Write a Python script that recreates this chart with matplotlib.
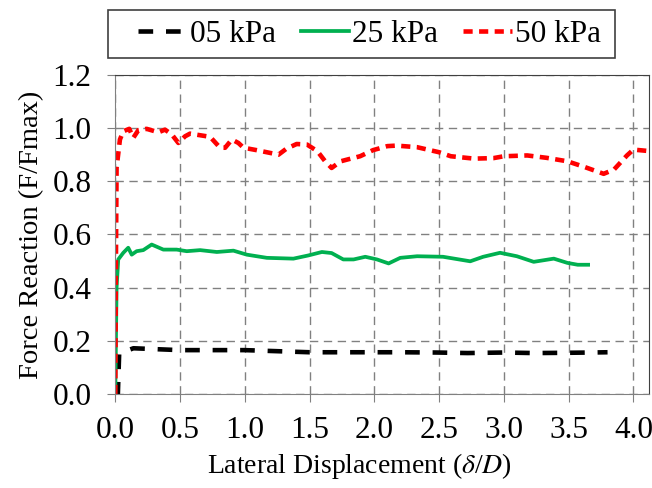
import numpy as np
import matplotlib
matplotlib.use("Agg")
import matplotlib.pyplot as plt
from matplotlib.patches import Rectangle

plt.rcParams['font.family'] = ['Liberation Serif', 'DejaVu Serif']
plt.rcParams['mathtext.fontset'] = 'stix'

# lateral displacement (delta/D) and normalised force F/Fmax for each surcharge
x_05 = [0.0, 0.02, 0.03, 0.14, 0.5, 1.0, 1.5, 1.92, 2.2, 2.48, 2.72, 3.0, 3.23, 3.49, 3.67, 3.80]
y_05 = [0.0, 0.0, 0.152, 0.172, 0.165, 0.165, 0.157, 0.157, 0.157, 0.156, 0.154, 0.156, 0.154, 0.155, 0.156, 0.157]

x_25 = [0.0, 0.01, 0.023, 0.062, 0.10, 0.127, 0.165, 0.216, 0.281, 0.371, 0.474, 0.552, 0.655,
        0.784, 0.912, 1.015, 1.17, 1.375, 1.49, 1.595, 1.67, 1.76, 1.84, 1.93, 2.02, 2.11, 2.2,
        2.33, 2.53, 2.74, 2.84, 2.97, 3.10, 3.23, 3.385, 3.49, 3.57, 3.65]
y_25 = [0.0, 0.40, 0.506, 0.531, 0.55, 0.524, 0.537, 0.541, 0.562, 0.543, 0.543, 0.537, 0.541,
        0.534, 0.539, 0.524, 0.512, 0.509, 0.521, 0.534, 0.530, 0.506, 0.506, 0.516, 0.506, 0.491, 0.512,
        0.518, 0.516, 0.499, 0.516, 0.531, 0.518, 0.497, 0.509, 0.493, 0.486, 0.486]

x_50 = [0.0, 0.005, 0.01, 0.036, 0.062, 0.108, 0.139, 0.178, 0.242, 0.333, 0.384, 0.436, 0.487,
        0.539, 0.577, 0.732, 0.809, 0.848, 0.90, 0.95, 0.99, 1.09, 1.17, 1.26, 1.32, 1.40, 1.48,
        1.56, 1.62, 1.67, 1.74, 1.81, 1.89, 1.99, 2.10, 2.17, 2.33, 2.50, 2.59, 2.77, 2.92, 3.0,
        3.18, 3.33, 3.49, 3.62, 3.77, 3.85, 3.95, 4.0, 4.13]
y_50 = [0.0, 0.5, 0.85, 0.957, 0.988, 0.997, 0.963, 0.992, 0.997, 0.984, 0.994, 0.976, 0.944,
        0.969, 0.979, 0.967, 0.926, 0.926, 0.957, 0.944, 0.926, 0.917, 0.909, 0.90, 0.922, 0.940, 0.938,
        0.913, 0.875, 0.85, 0.875, 0.884, 0.894, 0.917, 0.932, 0.934, 0.928, 0.909, 0.894, 0.885, 0.887, 0.894,
        0.897, 0.888, 0.875, 0.854, 0.828, 0.844, 0.897, 0.919, 0.913]

labels = ["05 kPa", "25 kPa", "50 kPa"]
xticks = [0.0, 0.5, 1.0, 1.5, 2.0, 2.5, 3.0, 3.5, 4.0]
yticks = [0.0, 0.2, 0.4, 0.6, 0.8, 1.0, 1.2]

fig = plt.figure(figsize=(6.52, 4.88), dpi=100)
ax = fig.add_axes([0.1768, 0.1926, 0.8186, 0.654])

l1, = ax.plot(x_05, y_05, color="black", lw=3.3, dashes=(3.2, 2.8), solid_capstyle="round")
l2, = ax.plot(x_25, y_25, color="#00B050", lw=2.7, solid_joinstyle="round")
l3, = ax.plot(x_50, y_50, color="#FF0000", lw=3.3, dashes=(2.0, 1.4))

ax.set_xlim(0, 4.12)
ax.set_ylim(0, 1.2)
ax.set_xticks(xticks)
ax.set_yticks(yticks)
ax.set_xticklabels([f"{v:.1f}" for v in xticks])
ax.set_yticklabels([f"{v:.1f}" for v in yticks])
ax.tick_params(labelsize=22.5, length=6, color="#808080", direction="out")
ax.tick_params(axis="y", pad=11)
ax.tick_params(axis="x", pad=10)
ax.grid(True, color="#808080", linestyle=(0, (6, 4)), lw=1.0)

for s in ["left", "bottom"]:
    ax.spines[s].set_color("#808080")
for s in ["top", "right"]:
    ax.spines[s].set_color("#404040")

ax.set_xlabel(r"Lateral Displacement ($\delta$/$D$)", fontsize=20)
ax.xaxis.set_label_coords(0.457, -0.178)
ax.set_ylabel("Force Reaction (F/Fmax)", fontsize=20.5, labelpad=6)

# legend box drawn separately so the padding inside can be uneven
fig.patches.append(Rectangle((0.1656, 0.881), 0.777, 0.0984, transform=fig.transFigure,
                             fill=False, edgecolor="#404040", lw=1.2))
leg = fig.legend([l1, l2, l3], labels, ncol=3, loc="center",
                 bbox_to_anchor=(0.567, 0.930),
                 fontsize=22.5, frameon=False,
                 handlelength=1.55, handletextpad=0.1, columnspacing=0.8)

fig.savefig("out.png", dpi=100)
